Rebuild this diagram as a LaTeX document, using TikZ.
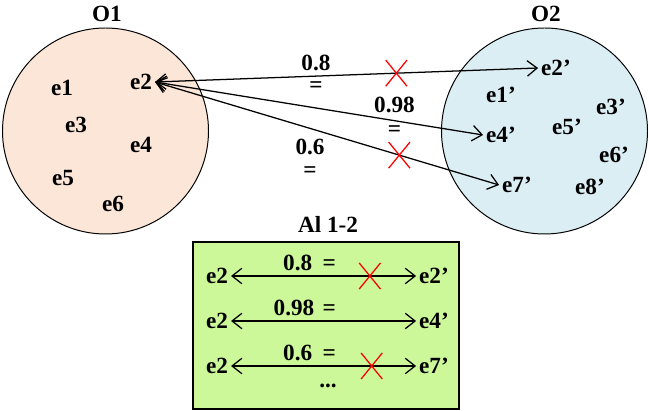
\documentclass[tikz,border=0pt]{standalone}
\usepackage{fontspec}
\setmainfont{Liberation Serif}
\usetikzlibrary{arrows.meta,shapes.misc}
\definecolor{peach}{HTML}{FCE6D8}
\definecolor{paleblue}{HTML}{DBEEF4}
\definecolor{palegreen}{HTML}{CCF89A}
\tikzset{
  ent/.style={inner sep=2pt},
  nomatch/.style={cross out,draw=red,line width=0.9pt,inner sep=0pt,minimum width=0.5cm,minimum height=0.62cm},
  corr/.style={{Straight Barb[length=7pt,width=11pt]}-{Straight Barb[length=7pt,width=11pt]},line width=0.9pt},
}
\begin{document}
\begin{tikzpicture}[x=0.025cm,y=-0.025cm,font=\fontsize{16.5}{18}\selectfont\bfseries]
  \useasboundingbox (0,0) rectangle (649,411);
  % the two ontologies
  \draw[fill=peach,line width=0.7pt] (105.5,131) circle[radius=103];
  \draw[fill=paleblue,line width=0.7pt] (544.5,131) circle[radius=103];
  \node (o1) at (107,14) {O1};
  \node (o2) at (546,14) {O2};
  \node[ent] (a1) at (62,88) {e1};
  \node[ent] (a2) at (141,82) {e2};
  \node[ent] (a3) at (76,125) {e3};
  \node[ent] (a4) at (141,145) {e4};
  \node[ent] (a5) at (63,178) {e5};
  \node[ent] (a6) at (113,204) {e6};
  \node[ent] (b2) at (556,68) {e2’};
  \node[ent] (b1) at (501,95) {e1’};
  \node[ent] (b3) at (611,107) {e3’};
  \node[ent] (b4) at (501,135) {e4’};
  \node[ent] (b5) at (567,127) {e5’};
  \node[ent] (b6) at (614,155) {e6’};
  \node[ent] (b7) at (517,185) {e7’};
  \node[ent] (b8) at (590,187) {e8’};
  \draw[corr] (a2.east) -- node[pos=0.42,above] {0.8} node[pos=0.42,below] {=}
    node[nomatch,pos=0.63] (x1) {} (b2.west);
  \draw[corr] (a2.east) -- node[pos=0.73,above=2pt] {0.98} node[pos=0.73,below] {=} (b4.west);
  \draw[corr] (a2.east) -- node[nomatch,pos=0.71] (x2) {} (b7.west);
  \node[inner sep=1pt] (l3) at (310,147) {0.6};
  \node[inner sep=1pt] (l3eq) at (310,172) {=};
  % the alignment
  \node (al) at (328,224) {Al 1-2};
  \draw[fill=palegreen,line width=1.2pt] (193,242) rectangle (459,409);
  \node[ent] (r1l) at (217,276) {e2};
  \node[ent] (r1r) at (434,276) {e2’};
  \node[ent] (r2l) at (217,321) {e2};
  \node[ent] (r2r) at (434,321) {e4’};
  \node[ent] (r3l) at (217,366) {e2};
  \node[ent] (r3r) at (434,366) {e7’};
  \draw[corr] (r1l) -- node[pos=0.36,above] {0.8} node[pos=0.53,above] {=}
    node[nomatch,pos=0.75] (x3) {} (r1r);
  \draw[corr] (r2l) -- node[pos=0.34,above] {0.98} node[pos=0.53,above] {=} (r2r);
  \draw[corr] (r3l) -- node[pos=0.36,above] {0.6} node[pos=0.53,above] {=}
    node[nomatch,pos=0.76] (x4) {} (r3r);
  \node (dots) at (328,386) {...};
\end{tikzpicture}
\end{document}
